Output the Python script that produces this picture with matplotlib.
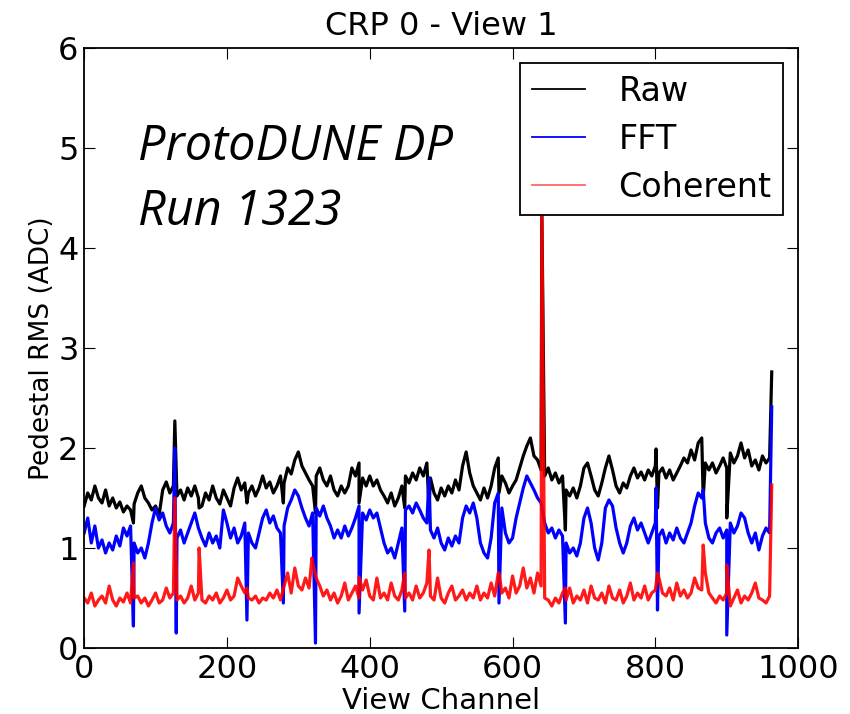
import numpy as np
import matplotlib
matplotlib.use("Agg")
import matplotlib.pyplot as plt

# channel grid (every 5 channels) for the baseline noise levels
channels = np.arange(0, 961, 5)

raw_rms = [
    1.42, 1.55, 1.48, 1.62, 1.50, 1.45, 1.58, 1.42, 1.50, 1.40, 1.46, 1.36, 1.42, 1.38, 1.44, 1.55,
    1.62, 1.50, 1.45, 1.38, 1.42, 1.33, 1.58, 1.66, 1.55, 1.62, 1.52, 1.58, 1.48, 1.60, 1.52, 1.62,
    1.50, 1.42, 1.55, 1.48, 1.62, 1.50, 1.44, 1.58, 1.50, 1.42, 1.60, 1.70, 1.58, 1.65, 1.55, 1.62,
    1.52, 1.60, 1.72, 1.60, 1.66, 1.55, 1.62, 1.72, 1.65, 1.80, 1.74, 1.88, 1.96, 1.82, 1.75, 1.68,
    1.62, 1.72, 1.80, 1.68, 1.62, 1.72, 1.58, 1.52, 1.62, 1.55, 1.62, 1.80, 1.72, 1.85, 1.70, 1.62,
    1.72, 1.62, 1.68, 1.58, 1.52, 1.45, 1.55, 1.42, 1.50, 1.62, 1.72, 1.65, 1.75, 1.68, 1.80, 1.72,
    1.85, 1.70, 1.55, 1.48, 1.60, 1.52, 1.62, 1.55, 1.68, 1.58, 1.82, 1.96, 1.75, 1.62, 1.55, 1.48,
    1.60, 1.50, 1.62, 1.80, 1.90, 1.72, 1.65, 1.55, 1.62, 1.68, 1.80, 1.92, 2.02, 2.10, 1.92, 1.88,
    1.78, 1.72, 1.80, 1.68, 1.75, 1.65, 1.72, 1.58, 1.52, 1.60, 1.50, 1.62, 1.80, 1.85, 1.72, 1.58,
    1.52, 1.65, 1.80, 1.92, 1.78, 1.62, 1.55, 1.65, 1.60, 1.72, 1.80, 1.70, 1.76, 1.68, 1.78, 1.72,
    1.82, 1.75, 1.80, 1.70, 1.78, 1.68, 1.75, 1.82, 1.90, 1.85, 1.98, 1.88, 2.05, 2.10, 1.85, 1.78,
    1.85, 1.75, 1.82, 1.90, 1.80, 1.95, 1.85, 1.92, 2.05, 1.90, 1.98, 1.82, 1.88, 1.78, 1.92, 1.85,
    1.90,
]

fft_rms = [
    1.15, 1.30, 1.05, 1.22, 1.00, 1.08, 0.95, 1.05, 0.98, 1.12, 1.02, 1.20, 1.12, 1.22, 1.05, 0.95,
    1.00, 0.90, 1.05, 1.25, 1.40, 1.28, 1.35, 1.22, 1.15, 1.25, 1.10, 1.18, 1.05, 1.15, 1.25, 1.35,
    1.20, 1.10, 1.02, 1.15, 1.05, 1.12, 1.00, 1.38, 1.25, 1.10, 1.20, 1.05, 1.12, 1.25, 1.15, 1.05,
    1.00, 1.15, 1.30, 1.38, 1.25, 1.32, 1.20, 1.15, 1.22, 1.40, 1.48, 1.58, 1.52, 1.40, 1.30, 1.22,
    1.35, 1.40, 1.32, 1.42, 1.30, 1.22, 1.10, 1.18, 1.10, 1.22, 1.12, 1.20, 1.30, 1.42, 1.35, 1.28,
    1.38, 1.30, 1.35, 1.20, 1.05, 0.95, 1.00, 0.90, 1.05, 1.20, 1.38, 1.42, 1.35, 1.45, 1.38, 1.30,
    1.25, 1.18, 1.10, 1.20, 1.05, 0.98, 1.10, 1.02, 1.12, 1.05, 1.30, 1.42, 1.35, 1.45, 1.30, 1.05,
    0.95, 0.90, 1.10, 1.45, 1.55, 1.40, 1.15, 1.05, 1.10, 1.30, 1.45, 1.60, 1.72, 1.65, 1.58, 1.50,
    1.45, 1.25, 1.15, 1.20, 1.10, 1.18, 1.12, 1.05, 0.95, 1.00, 0.92, 1.05, 1.30, 1.40, 1.25, 1.00,
    0.88, 1.05, 1.40, 1.48, 1.42, 1.20, 1.05, 0.95, 1.05, 1.22, 1.30, 1.18, 1.25, 1.15, 1.05, 1.15,
    1.25, 1.12, 1.18, 1.05, 1.15, 1.08, 1.20, 1.10, 1.05, 1.15, 1.25, 1.42, 1.55, 1.50, 1.25, 1.10,
    1.05, 1.15, 1.20, 1.10, 1.18, 1.25, 1.15, 1.22, 1.35, 1.30, 1.15, 1.05, 1.15, 0.98, 1.12, 1.20,
    1.15,
]

coh_rms = [
    0.50, 0.45, 0.55, 0.42, 0.48, 0.52, 0.45, 0.62, 0.48, 0.42, 0.50, 0.46, 0.55, 0.45, 0.50, 0.52,
    0.45, 0.50, 0.42, 0.48, 0.55, 0.45, 0.48, 0.60, 0.50, 0.55, 0.48, 0.52, 0.45, 0.50, 0.62, 0.48,
    0.55, 0.48, 0.45, 0.52, 0.48, 0.55, 0.45, 0.50, 0.58, 0.48, 0.52, 0.70, 0.62, 0.55, 0.50, 0.48,
    0.52, 0.45, 0.50, 0.48, 0.55, 0.50, 0.58, 0.48, 0.62, 0.75, 0.55, 0.80, 0.62, 0.58, 0.70, 0.60,
    0.85, 0.70, 0.62, 0.52, 0.58, 0.48, 0.55, 0.45, 0.52, 0.65, 0.48, 0.55, 0.62, 0.50, 0.58, 0.68,
    0.52, 0.48, 0.70, 0.50, 0.55, 0.48, 0.65, 0.52, 0.48, 0.58, 0.50, 0.55, 0.48, 0.62, 0.50, 0.55,
    0.65, 0.52, 0.48, 0.70, 0.50, 0.45, 0.55, 0.62, 0.48, 0.52, 0.58, 0.48, 0.55, 0.50, 0.62, 0.48,
    0.55, 0.50, 0.65, 0.52, 0.75, 0.55, 0.60, 0.50, 0.72, 0.55, 0.62, 0.80, 0.60, 0.70, 0.55, 0.75,
    0.62, 0.50, 0.48, 0.42, 0.50, 0.45, 0.55, 0.48, 0.60, 0.45, 0.52, 0.48, 0.58, 0.45, 0.62, 0.50,
    0.48, 0.55, 0.45, 0.62, 0.50, 0.48, 0.58, 0.45, 0.52, 0.65, 0.48, 0.55, 0.50, 0.62, 0.48, 0.55,
    0.58, 0.70, 0.55, 0.52, 0.60, 0.48, 0.65, 0.52, 0.58, 0.50, 0.55, 0.70, 0.60, 0.58, 0.75, 0.55,
    0.50, 0.45, 0.52, 0.48, 0.55, 0.42, 0.50, 0.58, 0.45, 0.52, 0.48, 0.55, 0.65, 0.50, 0.48, 0.45,
    0.52,
]

# noisy / dead channels: (channel, value)
raw_spikes = [(69, 1.25), (127, 2.27), (161, 1.40), (228, 1.45), (279, 1.45), (324, 1.35),
              (385, 1.45), (449, 1.40), (483, 1.40), (581, 1.55), (641, 4.40), (674, 1.18),
              (801, 1.99), (803, 1.40), (867, 1.50), (900, 1.30), (963, 2.76)]
fft_spikes = [(69, 0.22), (127, 2.00), (129, 0.15), (228, 0.28), (279, 0.45), (324, 0.05),
              (385, 0.35), (449, 0.37), (483, 1.70), (581, 0.45), (674, 0.25), (801, 1.60),
              (803, 0.38), (867, 1.58), (900, 0.13), (963, 2.41)]
coh_spikes = [(69, 0.85), (127, 1.50), (161, 1.00), (228, 0.60), (319, 0.90), (385, 0.71),
              (449, 0.75), (483, 0.98), (581, 0.75), (641, 4.40), (674, 0.60), (803, 0.75),
              (867, 1.03), (900, 0.83), (963, 1.63)]


def merge(base, spikes):
    x = np.concatenate([channels, [s[0] for s in spikes]])
    y = np.concatenate([base, [s[1] for s in spikes]])
    order = np.argsort(x, kind="stable")
    return x[order], y[order]


fig = plt.figure(figsize=(8.5, 7.14), dpi=100)
ax = fig.add_axes([0.099, 0.0924, 0.84, 0.8406])

x, y = merge(raw_rms, raw_spikes)
ax.plot(x, y, color="black", lw=2.3, label="Raw")
x, y = merge(fft_rms, fft_spikes)
ax.plot(x, y, color="blue", lw=2.3, label="FFT")
x, y = merge(coh_rms, coh_spikes)
ax.plot(x, y, color="red", lw=2.3, alpha=0.9, label="Coherent")

ax.set_xlim(0, 1000)
ax.set_ylim(0, 6)
ax.set_xticks(range(0, 1001, 200))
ax.set_yticks(range(0, 7))
ax.tick_params(direction="in", top=True, right=True, labelsize=23, length=8, pad=4)
for s in ax.spines.values():
    s.set_linewidth(1.3)

ax.set_title("CRP 0 - View 1", fontsize=23, pad=9)
ax.set_xlabel("View Channel", fontsize=21, labelpad=2)
ax.set_ylabel("Pedestal RMS (ADC)", fontsize=19, labelpad=2)

leg = ax.legend(loc="upper right", fontsize=24, fancybox=False, framealpha=1,
                edgecolor="black", handlelength=1.6, handletextpad=1.0,
                borderaxespad=0.45, labelspacing=0.45, borderpad=0.35)
leg.get_frame().set_linewidth(1.3)
for h in leg.get_lines():
    h.set_linewidth(1.3)
leg.get_lines()[2].set_alpha(0.6)

ax.text(0.076, 0.875, "ProtoDUNE DP\nRun 1323", transform=ax.transAxes,
        fontsize=35, style="italic", family=["Open Sans", "DejaVu Sans"],
        va="top", ha="left", linespacing=1.4)

fig.savefig("out.png", dpi=100)
